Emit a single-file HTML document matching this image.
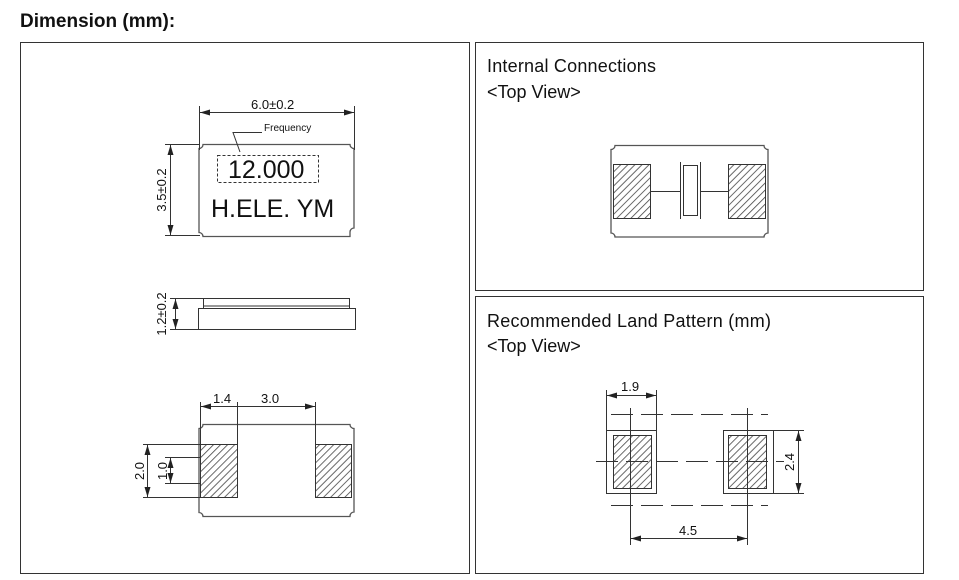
<!DOCTYPE html>
<html><head><meta charset="utf-8"><style>
body{margin:0;background:#fff;width:959px;height:580px;overflow:hidden}
svg{display:block}
text{font-family:"Liberation Sans",Arial,sans-serif;fill:#111}
</style></head><body>
<svg width="959" height="580" viewBox="0 0 959 580" xmlns="http://www.w3.org/2000/svg">
<defs>
<pattern id="h" width="5" height="5" patternUnits="userSpaceOnUse" patternTransform="rotate(45)">
<rect width="5" height="5" fill="#fff"/><line x1="0" y1="0" x2="0" y2="5" stroke="#444" stroke-width="1.6"/></pattern>
<marker id="a" markerWidth="10" markerHeight="6" refX="10" refY="3" orient="auto-start-reverse" markerUnits="userSpaceOnUse"><path d="M0,0L10,3L0,6z" fill="#222"/></marker>
</defs>
<text x="20" y="27" font-size="19" font-weight="bold">Dimension (mm):</text>
<g fill="none" stroke="#333" stroke-width="1">
<rect x="20.5" y="42.5" width="449" height="531"/>
<rect x="475.5" y="42.5" width="448" height="248"/>
<rect x="475.5" y="296.5" width="448" height="277"/>
</g>
<!-- top view -->
<g stroke="#333" stroke-width="1" fill="none">
<path d="M203,144.5H350a4,4 0 0 0 4,4V228a4,4 0 0 0 -4,4V236.5H203a4,4 0 0 0 -4,-4V148.5a4,4 0 0 0 4,-4z" stroke="#555" stroke-width="1.3"/>
<line x1="199.5" y1="106" x2="199.5" y2="150"/><line x1="354.5" y1="106" x2="354.5" y2="150"/>
<line x1="200" y1="112.5" x2="354" y2="112.5" marker-start="url(#a)" marker-end="url(#a)"/>
<polyline points="262,132.5 233,132.5 240,152"/>
<rect x="217.5" y="155.5" width="101" height="27" stroke-dasharray="3,2"/>
<line x1="165" y1="144.5" x2="200" y2="144.5"/><line x1="165" y1="235.5" x2="200" y2="235.5"/>
<line x1="170.5" y1="145" x2="170.5" y2="235" marker-start="url(#a)" marker-end="url(#a)"/>
</g>
<text x="251" y="109" font-size="13">6.0±0.2</text>
<text x="264" y="131" font-size="10">Frequency</text>
<text x="228" y="178" font-size="25">12.000</text>
<text x="211" y="217" font-size="25">H.ELE. YM</text>
<text transform="translate(166,190) rotate(-90)" font-size="13" text-anchor="middle">3.5±0.2</text>
<!-- side view -->
<g stroke="#333" stroke-width="1" fill="none">
<rect x="203.5" y="298.5" width="146" height="10"/>
<rect x="198.5" y="308.5" width="157" height="21"/>
<line x1="204" y1="306" x2="349" y2="306" stroke="#999" stroke-width="2"/>
<line x1="170" y1="298.5" x2="203" y2="298.5"/><line x1="170" y1="329.5" x2="198" y2="329.5"/>
<line x1="175.5" y1="299" x2="175.5" y2="329" marker-start="url(#a)" marker-end="url(#a)"/>
</g>
<text transform="translate(166,314) rotate(-90)" font-size="13" text-anchor="middle">1.2±0.2</text>
<!-- bottom view -->
<g stroke="#333" stroke-width="1" fill="none">
<path d="M203,424.5H350a4,4 0 0 0 4,4V512a4,4 0 0 0 -4,4V516.5H203a4,4 0 0 0 -4,-4V428.5a4,4 0 0 0 4,-4z" stroke="#555" stroke-width="1.3"/>
<rect x="200.5" y="444.5" width="37" height="53" fill="url(#h)"/>
<rect x="315.5" y="444.5" width="36" height="53" fill="url(#h)"/>
<line x1="200.5" y1="402" x2="200.5" y2="444"/><line x1="237.5" y1="402" x2="237.5" y2="444"/><line x1="315.5" y1="402" x2="315.5" y2="444"/>
<line x1="201" y1="406.5" x2="237" y2="406.5" marker-start="url(#a)"/>
<line x1="238" y1="406.5" x2="315" y2="406.5" marker-end="url(#a)"/>
<line x1="143" y1="444.5" x2="200" y2="444.5"/><line x1="143" y1="497.5" x2="200" y2="497.5"/>
<line x1="165" y1="457.5" x2="200" y2="457.5"/><line x1="165" y1="483.5" x2="200" y2="483.5"/>
<line x1="147.5" y1="445" x2="147.5" y2="497" marker-start="url(#a)" marker-end="url(#a)"/>
<line x1="170.5" y1="458" x2="170.5" y2="483" marker-start="url(#a)" marker-end="url(#a)"/>
</g>
<text x="213" y="403" font-size="13">1.4</text>
<text x="261" y="403" font-size="13">3.0</text>
<text transform="translate(144,471) rotate(-90)" font-size="13" text-anchor="middle">2.0</text>
<text transform="translate(167,471) rotate(-90)" font-size="13" text-anchor="middle">1.0</text>
<!-- internal connections -->
<text x="487" y="72" font-size="18" textLength="169">Internal Connections</text>
<text x="487" y="98" font-size="18">&lt;Top View&gt;</text>
<g stroke="#333" stroke-width="1" fill="none">
<path d="M615,145.5H764a4,4 0 0 0 4,4V233a4,4 0 0 0 -4,4H615a4,4 0 0 0 -4,-4V149.5a4,4 0 0 0 4,-4z" stroke="#555" stroke-width="1.3"/>
<rect x="613.5" y="164.5" width="37" height="54" fill="url(#h)"/>
<rect x="728.5" y="164.5" width="37" height="54" fill="url(#h)"/>
<line x1="651" y1="191.5" x2="680" y2="191.5"/><line x1="700" y1="191.5" x2="728" y2="191.5"/>
<line x1="680.5" y1="162" x2="680.5" y2="219"/><line x1="700.5" y1="162" x2="700.5" y2="219"/>
<rect x="683.5" y="165.5" width="14" height="50"/>
</g>
<!-- land pattern -->
<text x="487" y="327" font-size="18" textLength="284">Recommended Land Pattern (mm)</text>
<text x="487" y="352" font-size="18">&lt;Top View&gt;</text>
<g stroke="#333" stroke-width="1" fill="none">
<rect x="606.5" y="430.5" width="50" height="63"/>
<rect x="723.5" y="430.5" width="50" height="63"/>
<rect x="613.5" y="435.5" width="38" height="53" fill="url(#h)"/>
<rect x="728.5" y="435.5" width="38" height="53" fill="url(#h)"/>
<line x1="611" y1="414.5" x2="768" y2="414.5" stroke-dasharray="22,8"/>
<line x1="611" y1="505.5" x2="768" y2="505.5" stroke-dasharray="22,8"/>
<line x1="596" y1="461.5" x2="784" y2="461.5" stroke-dasharray="22,8"/>
<line x1="630.5" y1="408" x2="630.5" y2="545"/>
<line x1="747.5" y1="408" x2="747.5" y2="545"/>
<line x1="606.5" y1="390" x2="606.5" y2="430"/><line x1="656.5" y1="390" x2="656.5" y2="430"/>
<line x1="607" y1="395.5" x2="656" y2="395.5" marker-start="url(#a)" marker-end="url(#a)"/>
<line x1="774" y1="430.5" x2="804" y2="430.5"/><line x1="774" y1="493.5" x2="804" y2="493.5"/>
<line x1="798.5" y1="431" x2="798.5" y2="493" marker-start="url(#a)" marker-end="url(#a)"/>
<line x1="631" y1="538.5" x2="747" y2="538.5" marker-start="url(#a)" marker-end="url(#a)"/>
</g>
<text x="621" y="391" font-size="13">1.9</text>
<text transform="translate(794,462) rotate(-90)" font-size="13" text-anchor="middle">2.4</text>
<text x="679" y="535" font-size="13">4.5</text>
</svg>
</body></html>
